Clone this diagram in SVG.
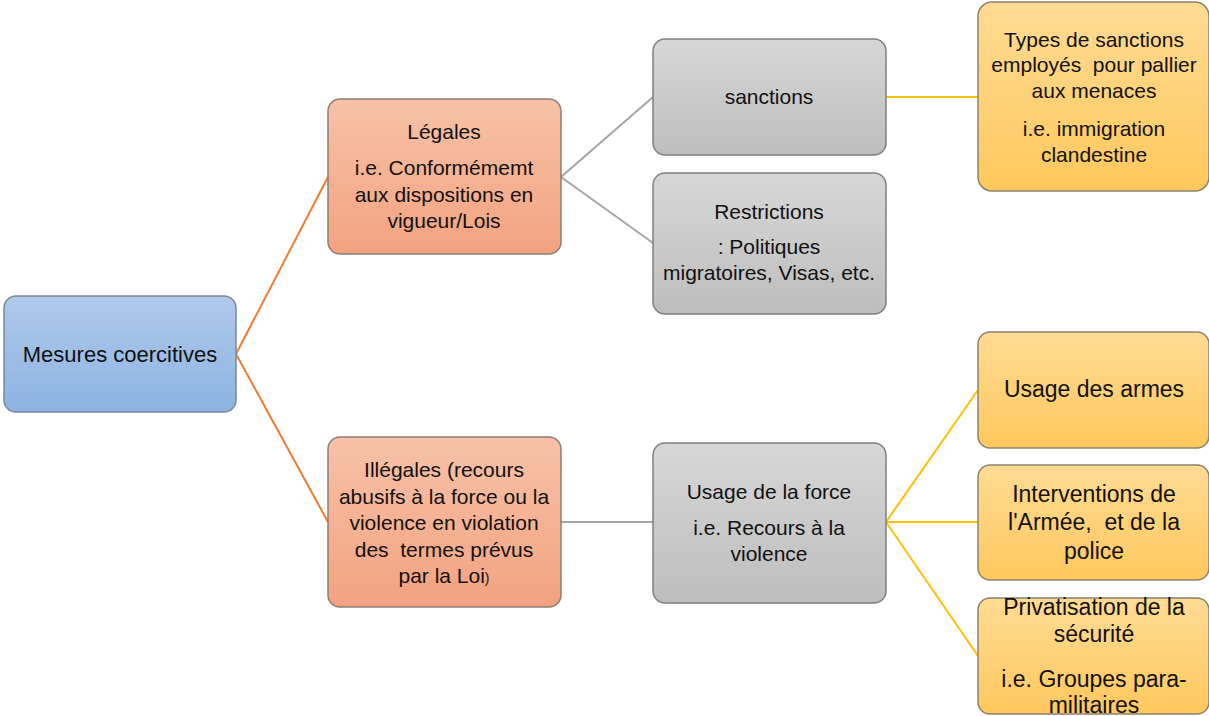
<svg xmlns="http://www.w3.org/2000/svg" width="1209" height="716" viewBox="0 0 1209 716">
<defs>
<linearGradient id="gBlue" x1="0" y1="0" x2="0" y2="1"><stop offset="0" stop-color="#B0C9EA"/><stop offset="1" stop-color="#8CB3E3"/></linearGradient>
<linearGradient id="gOrange" x1="0" y1="0" x2="0" y2="1"><stop offset="0" stop-color="#F7C2A8"/><stop offset="1" stop-color="#F3A27F"/></linearGradient>
<linearGradient id="gGray" x1="0" y1="0" x2="0" y2="1"><stop offset="0" stop-color="#D7D7D7"/><stop offset="1" stop-color="#BDBDBD"/></linearGradient>
<linearGradient id="gYellow" x1="0" y1="0" x2="0" y2="1"><stop offset="0" stop-color="#FFDB94"/><stop offset="1" stop-color="#FFC85C"/></linearGradient>
</defs>
<style>
.box{stroke:#7F7F7F;stroke-width:1.5}
.blue{fill:url(#gBlue);stroke:#7B8699}
.orange{fill:url(#gOrange);stroke:#8A7F78}
.gray{fill:url(#gGray)}
.yellow{fill:url(#gYellow);stroke:#8C826D}
text{font-family:"Liberation Sans",Arial,sans-serif;font-size:21px;fill:#111;text-anchor:middle;white-space:pre}
.big{font-size:23px}
.root{font-size:22px}
.c-or{stroke:#ED7D31;stroke-width:2;fill:none}
.c-gr{stroke:#A5A5A5;stroke-width:2;fill:none}
.c-ye{stroke:#FFC000;stroke-width:2;fill:none}
</style>
<g id="connectors">
<path class="c-or" d="M236 354 L328 177 M236 354 L328 522"/>
<path class="c-gr" d="M561 177 L653 97 M561 177 L653 243 M561 522 L653 522"/>
<path class="c-ye" d="M886 97 L978 97 M886 522 L978 390 M886 522 L978 522 M886 522 L978 656"/>
</g>
<g id="root"><rect class="box blue" x="4" y="296" width="232" height="116" rx="12"/>
<text class="root" x="120" y="362">Mesures coercitives</text></g>
<g id="legales"><rect class="box orange" x="328" y="99" width="233" height="155" rx="12"/>
<text x="444" y="139">Légales</text><text x="444" y="175">i.e. Conformémemt</text><text x="444" y="202">aux dispositions en</text><text x="444" y="228">vigueur/Lois</text></g>
<g id="illegales"><rect class="box orange" x="328" y="437" width="233" height="170" rx="12"/>
<text x="444" y="477">Illégales (recours</text><text x="444" y="504">abusifs à la force ou la</text><text x="444" y="530">violence en violation</text><text x="444" y="557" xml:space="preserve">des  termes prévus</text><text x="444" y="583">par la Loi<tspan font-size="14">)</tspan></text></g>
<g id="sanctions"><rect class="box gray" x="653" y="39" width="233" height="116" rx="12"/>
<text x="769" y="104">sanctions</text></g>
<g id="restrictions"><rect class="box gray" x="653" y="173" width="233" height="141" rx="12"/>
<text x="769" y="219">Restrictions</text><text x="769" y="254">: Politiques</text><text x="769" y="280">migratoires, Visas, etc.</text></g>
<g id="force"><rect class="box gray" x="653" y="443" width="233" height="160" rx="12"/>
<text x="769" y="499">Usage de la force</text><text x="769" y="535">i.e. Recours à la</text><text x="769" y="561">violence</text></g>
<g id="types"><rect class="box yellow" x="978" y="2" width="231" height="189" rx="14"/>
<text x="1094" y="47">Types de sanctions</text><text x="1094" y="72" xml:space="preserve">employés  pour pallier</text><text x="1094" y="98">aux menaces</text><text x="1094" y="136">i.e. immigration</text><text x="1094" y="162">clandestine</text></g>
<g id="armes"><rect class="box yellow" x="978" y="332" width="231" height="116" rx="12"/>
<text class="big" x="1094" y="397">Usage des armes</text></g>
<g id="interventions"><rect class="box yellow" x="978" y="465" width="231" height="115" rx="12"/>
<text class="big" x="1094" y="502">Interventions de</text><text class="big" x="1094" y="530" xml:space="preserve">l'Armée,  et de la</text><text class="big" x="1094" y="559">police</text></g>
<g id="privatisation"><rect class="box yellow" x="978" y="598" width="231" height="116" rx="12"/>
<text class="big" x="1094" y="615">Privatisation de la</text><text class="big" x="1094" y="642">sécurité</text><text class="big" x="1094" y="687">i.e. Groupes para-</text><text class="big" x="1094" y="713">militaires</text></g>
</svg>
